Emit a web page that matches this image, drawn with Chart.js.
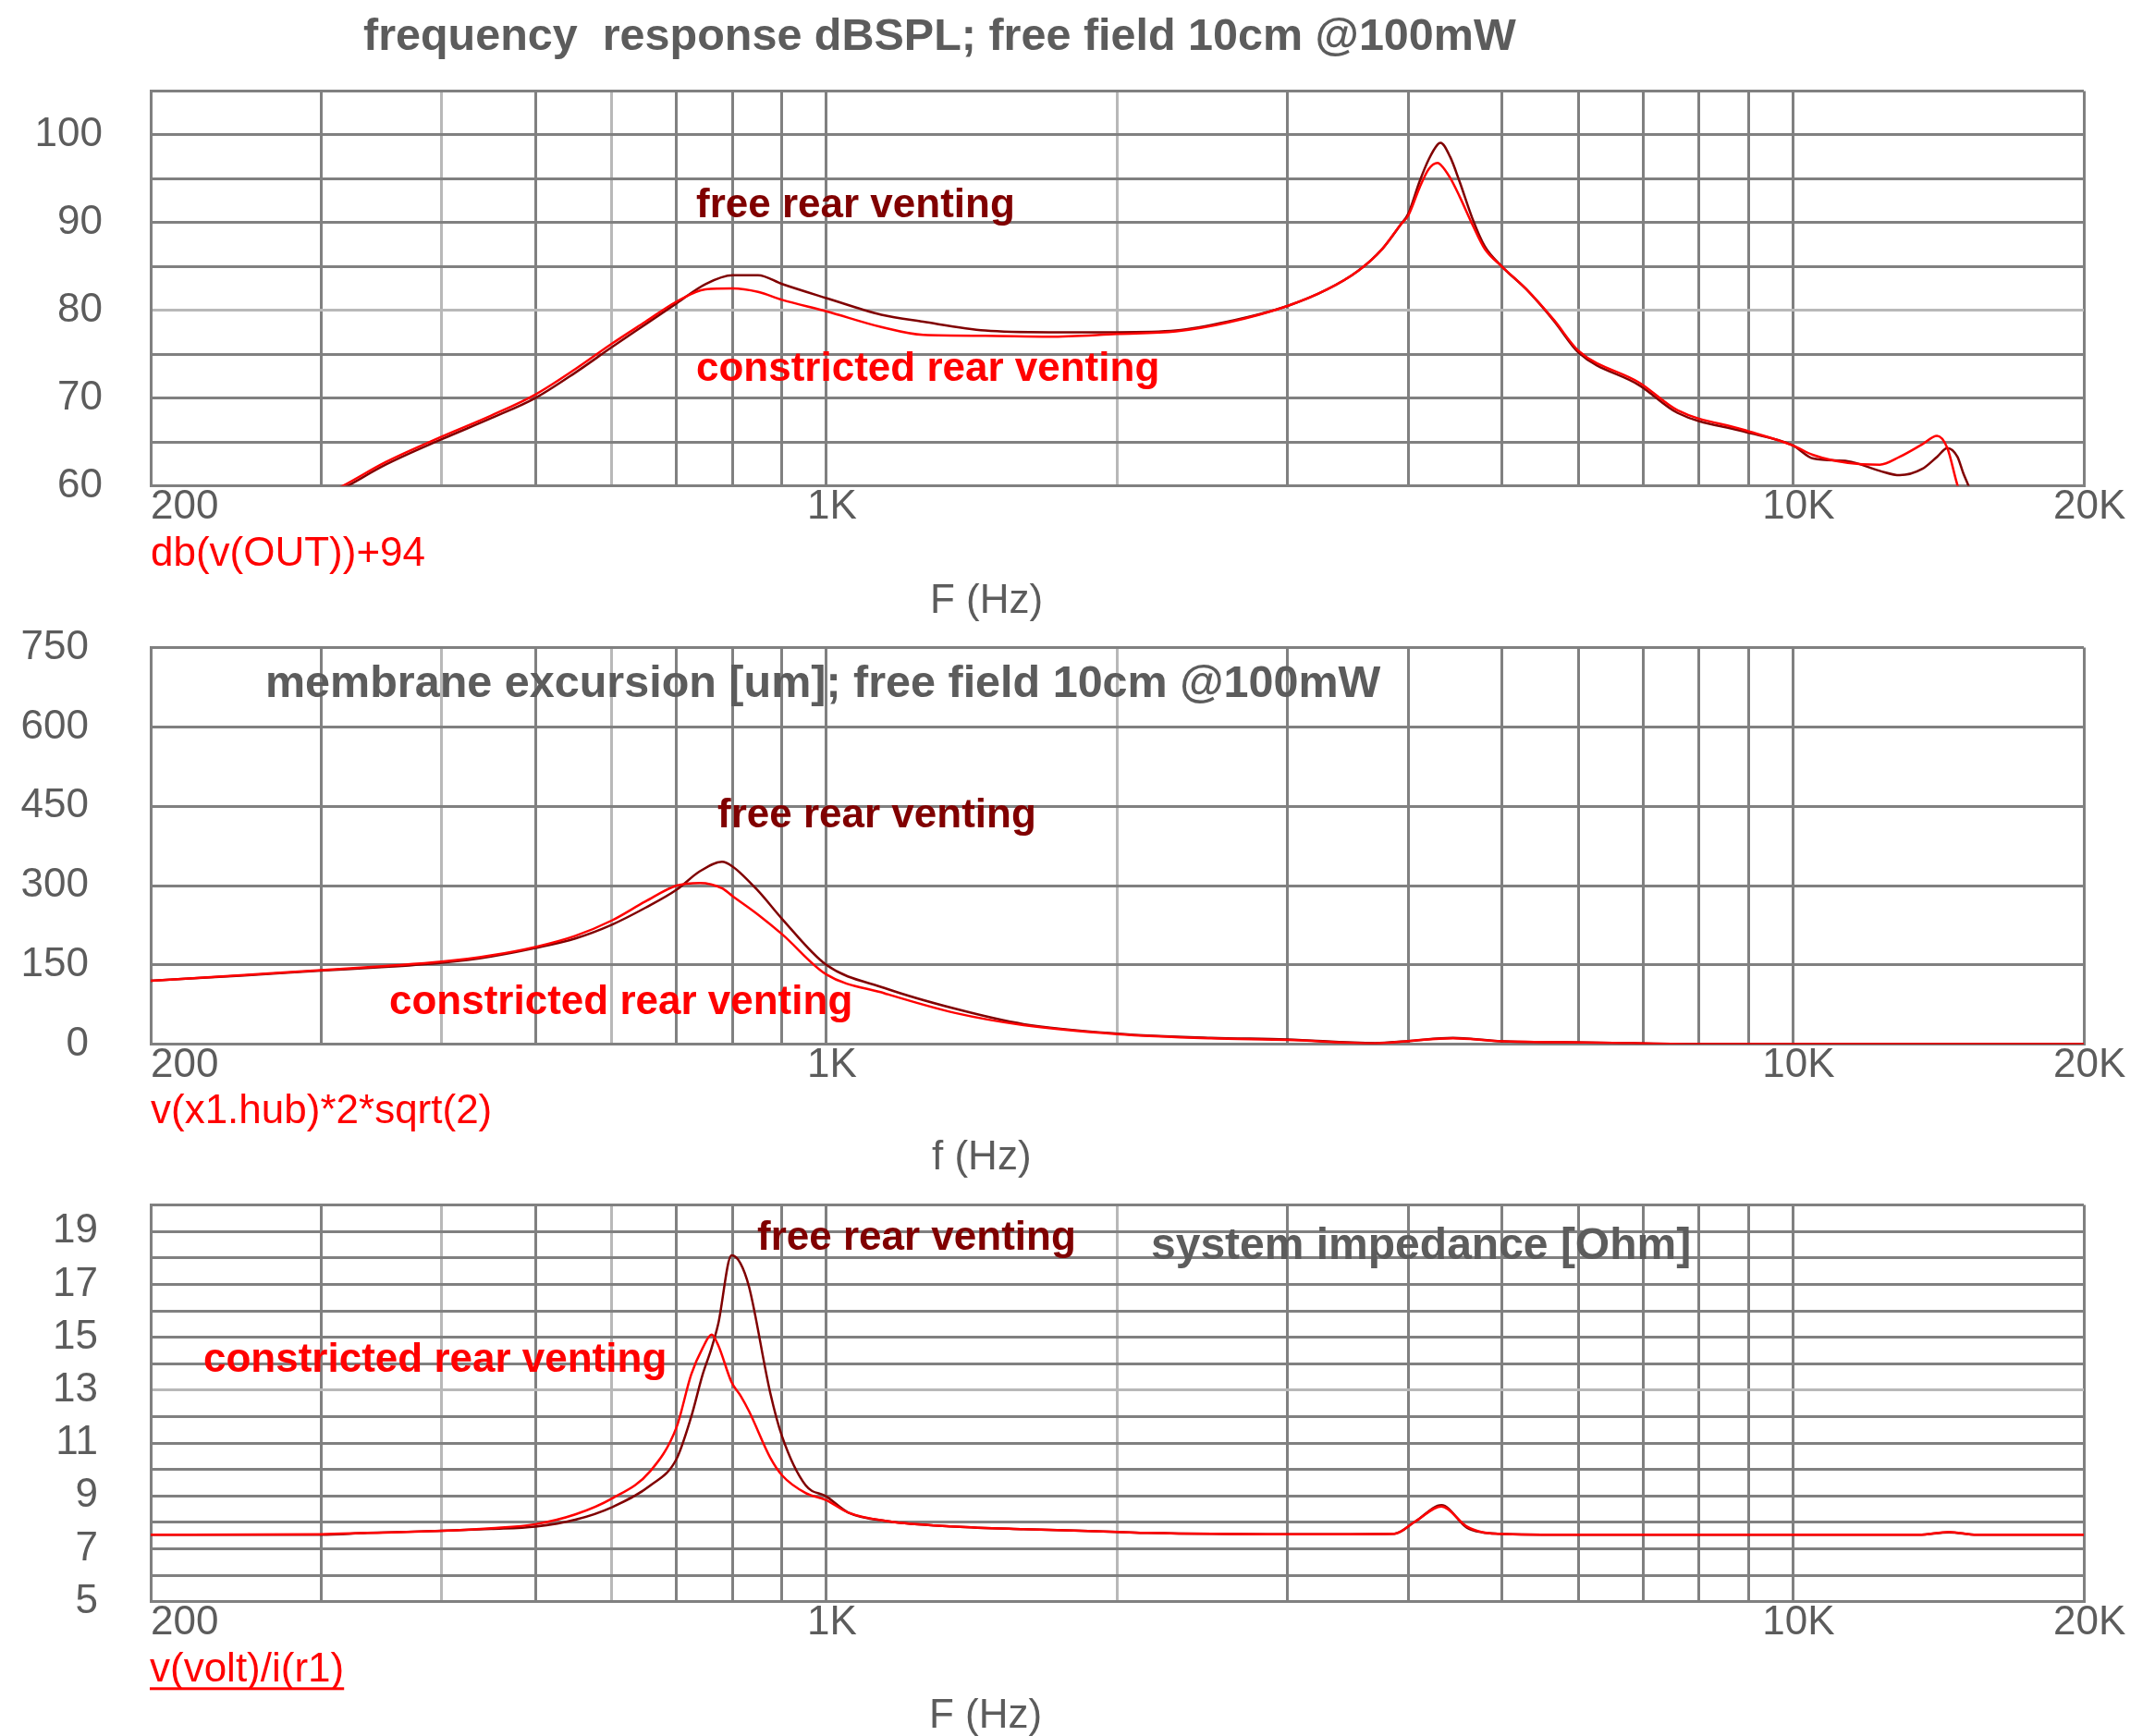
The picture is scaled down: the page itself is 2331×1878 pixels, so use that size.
<!doctype html>
<html>
<head>
<meta charset="utf-8" />
<title>Speaker simulation</title>
<style>
  body{margin:0;background:#fff;width:2331px;height:1878px;position:relative;overflow:hidden}
  canvas{position:absolute;left:0}
</style>
</head>
<body>
<canvas id="spl" width="2331" height="690" style="top:0"></canvas>
<canvas id="exc" width="2331" height="640" style="top:640px"></canvas>
<canvas id="imp" width="2331" height="608" style="top:1270px"></canvas>

<script src="https://cdn.jsdelivr.net/npm/chart.js@4.4.1/dist/chart.umd.min.js"></script>
<script>
// x grid (Hz) and the few labelled ones
const gridHz = [200,300,400,500,600,700,800,900,1000,2000,3000,4000,5000,6000,7000,8000,9000,10000,20000];
const lightHz = [400,600,2000];
const xTickText = {200:'      200', 1000:' 1K', 10000:' 10K', 20000:' 20K'};

// frequency response dBSPL
const splHz = [200,250,315,350,400,450,500,550,600,650,700,750,800,850,900,1000,1140,1260,1460,1700,2000,2300,2600,3000,3300,3550,3760,3930,4000,4110,4200,4290,4320,4420,4520,4660,4800,5000,5300,5660,6000,6950,7600,8880,10000,10500,11400,12300,12900,13600,14100,14450,14800,15000,15300,15700];
const splFree = [49.5,54.3,59.6,62.4,65.3,67.7,70.0,72.9,75.8,78.4,80.8,83.0,84.0,84.0,83.0,81.4,79.5,78.7,77.7,77.5,77.5,77.7,78.7,80.5,82.4,84.5,87.0,89.8,91.0,94.7,97.2,98.9,99.1,97.5,94.7,90.5,87.3,85.0,82.4,78.8,75.2,71.4,68.3,66.2,64.6,63.1,62.8,61.7,61.2,61.9,63.3,64.3,63.3,61.5,59.0,53.0];
const splConstricted = [49.8,54.6,59.9,62.7,65.6,68.0,70.4,73.3,76.2,78.7,81.0,82.4,82.5,82.1,81.2,79.9,78.1,77.2,77.1,77.0,77.3,77.6,78.6,80.5,82.4,84.5,87.0,89.8,90.8,94.0,96.1,96.8,96.6,95.1,93.0,89.8,87.0,85.0,82.4,78.9,75.4,71.7,68.6,66.4,64.6,63.5,62.6,62.4,63.3,64.7,65.7,64.3,60.1,58.5,55.0,50.0];
const splTicks = [60,65,70,75,80,85,90,95,100,105];
const splTickLabels = [60,70,80,90,100];

// membrane excursion [um]
const excHz = [200,250,300,350,400,450,500,550,600,650,700,740,780,800,850,900,1000,1150,1360,1600,2000,2500,3000,3700,4000,4450,4950,6300,8000,20000];
const excFree = [120,130,139,146,154,166,182,200,226,258,292,327,345,336,290,237,150,106,67,38,20,12,9,2,6,12,6,3,0,0];
const excConstricted = [120,131,140,148,156,168,184,205,234,270,300,305,295,280,245,208,132,96,59,36,19,11,8,1.5,6,11,6,3,0,0];
const excTicks = [0,150,300,450,600,750];
const excTickLabels = [0,150,300,450,600,750];

// system impedance [Ohm]
const impHz = [200,300,335,400,450,500,550,600,658,700,725,745,761,773,798,815,832,875,900,952,1000,1054,1160,1360,1600,2000,2150,3000,3870,4070,4330,4600,4770,4950,6000,10000,13500,14500,15500,20000];
const impFree = [7.53,7.53,7.6,7.68,7.75,7.84,8.1,8.57,9.4,10.4,12.0,13.6,14.6,15.5,18.1,17.8,16.9,12.9,11.25,9.4,8.98,8.37,8.04,7.84,7.74,7.64,7.6,7.55,7.57,8.04,8.65,7.8,7.62,7.57,7.53,7.53,7.53,7.62,7.53,7.53];
const impConstricted = [7.53,7.55,7.6,7.68,7.78,7.93,8.3,8.9,9.95,11.6,13.6,14.6,15.1,14.7,13.3,12.8,12.2,10.45,9.78,9.11,8.84,8.37,8.04,7.84,7.74,7.64,7.6,7.55,7.57,8.04,8.6,7.84,7.63,7.57,7.53,7.53,7.53,7.64,7.53,7.53];
const impTicks = [5,6,7,8,9,10,11,12,13,14,15,16,17,18,19,20];
const impTickLabels = [5,7,9,11,13,15,17,19];

const FONT = '"Liberation Sans", Arial, sans-serif';
const GRID = '#808080', LIGHT = '#b8b8b8', TXT = '#5c5c5c';
const DARKRED = '#800000', RED = '#ff0000';

// free-floating texts (titles, curve names, expression, axis name)
const notesPlugin = {
  id: 'notes',
  afterDraw(chart, args, opts) {
    const ctx = chart.ctx;
    ctx.save();
    ctx.textAlign = 'left';
    ctx.textBaseline = 'alphabetic';
    for (const n of opts.items || []) {
      ctx.font = (n.bold ? 'bold ' : '') + n.size + 'px ' + FONT;
      ctx.fillStyle = n.color;
      ctx.fillText(n.text, n.x, n.y);
      if (n.underline) {
        const w = ctx.measureText(n.text).width;
        ctx.fillRect(n.x, n.y + 6, w, 3);
      }
    }
    ctx.restore();
  }
};

function makeChart(id, o) {
  const pts = arr => o.hz.map((f, i) => ({ x: f, y: arr[i] }));
  return new Chart(document.getElementById(id), {
    type: 'line',
    data: {
      datasets: [
        { label: 'constricted rear venting', data: pts(o.constricted), borderColor: RED, borderWidth: 2.5 },
        { label: 'free rear venting', data: pts(o.free), borderColor: DARKRED, borderWidth: 2.5 }
      ]
    },
    options: {
      responsive: false,
      animation: false,
      devicePixelRatio: 1,
      layout: { padding: { left: 0, right: 77, top: o.top, bottom: 0 } },
      elements: { point: { radius: 0 }, line: { cubicInterpolationMode: 'monotone', fill: false } },
      plugins: { legend: { display: false }, tooltip: { enabled: false }, notes: { items: o.notes } },
      scales: {
        x: {
          type: 'logarithmic', min: 200, max: 20000,
          afterBuildTicks: s => { s.ticks = gridHz.map(v => ({ value: v })); },
          afterFit: s => { s.height = o.h - o.bottom; s.paddingLeft = 0; s.paddingRight = 0; },
          ticks: {
            autoSkip: false, maxRotation: 0, minRotation: 0, padding: -3, color: TXT,
            font: { family: FONT, size: 44 },
            callback: v => xTickText[v] || ''
          },
          grid: { color: c => lightHz.includes(c.tick && c.tick.value) ? LIGHT : GRID, lineWidth: 3, drawTicks: false },
          border: { color: GRID, width: 3 }
        },
        y: {
          min: o.ticks[0], max: o.ticks[o.ticks.length - 1],
          afterBuildTicks: s => { s.ticks = o.ticks.map(v => ({ value: v })); },
          afterFit: s => { s.width = 163; s.paddingTop = 0; s.paddingBottom = 0; },
          ticks: {
            autoSkip: false, padding: o.ypad, color: TXT, font: { family: FONT, size: 44 },
            callback: v => o.labels.includes(v) ? String(v) : ''
          },
          grid: { color: c => (c.tick && c.tick.value === o.lightY) ? LIGHT : GRID, lineWidth: 3, drawTicks: false },
          border: { color: GRID, width: 3 }
        }
      }
    },
    plugins: [notesPlugin]
  });
}

makeChart('spl', {
  h: 690, top: 98.5, bottom: 525.5, ypad: 52, lightY: 80,
  hz: splHz, free: splFree, constricted: splConstricted, ticks: splTicks, labels: splTickLabels,
  notes: [
    { text: 'frequency  response dBSPL; free field 10cm @100mW', x: 393, y: 54, size: 48.5, bold: true, color: TXT },
    { text: 'free rear venting', x: 753, y: 235, size: 44, bold: true, color: DARKRED },
    { text: 'constricted rear venting', x: 753, y: 412, size: 44, bold: true, color: RED },
    { text: 'db(v(OUT))+94', x: 163, y: 612, size: 44, color: RED },
    { text: 'F (Hz)', x: 1006, y: 663, size: 44, color: TXT }
  ]
});

makeChart('exc', {
  h: 640, top: 60.6, bottom: 489.6, ypad: 67, lightY: null,
  hz: excHz, free: excFree, constricted: excConstricted, ticks: excTicks, labels: excTickLabels,
  notes: [
    { text: 'membrane excursion [um]; free field 10cm @100mW', x: 287, y: 113.6, size: 48.5, bold: true, color: TXT },
    { text: 'free rear venting', x: 776, y: 255, size: 44, bold: true, color: DARKRED },
    { text: 'constricted rear venting', x: 421, y: 456.5, size: 44, bold: true, color: RED },
    { text: 'v(x1.hub)*2*sqrt(2)', x: 163, y: 575, size: 44, color: RED },
    { text: 'f (Hz)', x: 1008, y: 625, size: 44, color: TXT }
  ]
});

makeChart('imp', {
  h: 608, top: 33.6, bottom: 462.7, ypad: 57, lightY: 13,
  hz: impHz, free: impFree, constricted: impConstricted, ticks: impTicks, labels: impTickLabels,
  notes: [
    { text: 'free rear venting', x: 819, y: 82, size: 44, bold: true, color: DARKRED },
    { text: 'system impedance [Ohm]', x: 1245, y: 92, size: 48, bold: true, color: TXT },
    { text: 'constricted rear venting', x: 220, y: 213.6, size: 44, bold: true, color: RED },
    { text: 'v(volt)/i(r1)', x: 162, y: 549.3, size: 44, color: RED, underline: true },
    { text: 'F (Hz)', x: 1005, y: 599, size: 44, color: TXT }
  ]
});
</script>
</body>
</html>
